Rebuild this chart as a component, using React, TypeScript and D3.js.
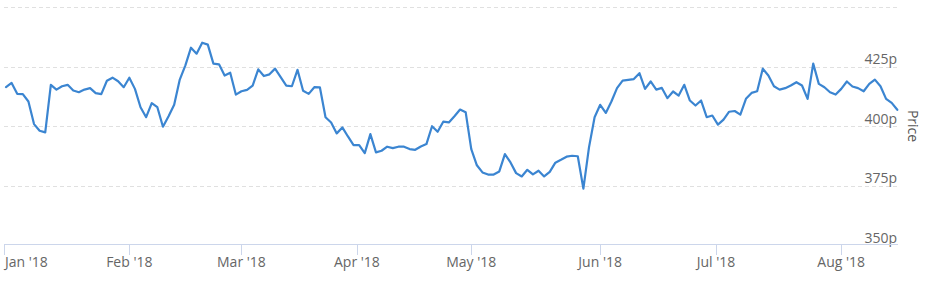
import React, { useEffect, useRef } from "react";
import * as d3 from "d3";

// Daily closing price (pence), one value per trading session from early Jan 2018 to mid Aug 2018
const prices: number[] = [
  416.3, 418.1, 413.5, 413.4, 410.3, 400.8, 398.0, 397.3, 417.3, 415.3,
  416.7, 417.3, 414.9, 414.2, 415.3, 415.9, 413.8, 413.4, 419.0, 420.3,
  418.8, 416.3, 420.3, 415.6, 407.9, 403.7, 409.6, 407.9, 399.7, 404.1,
  408.9, 419.5, 425.5, 432.9, 430.4, 435.0, 434.2, 426.2, 425.9, 421.2,
  422.4, 413.2, 414.6, 415.2, 417.0, 423.8, 421.0, 421.7, 424.1, 420.5,
  417.0, 416.7, 423.6, 414.8, 413.5, 416.3, 416.2, 403.7, 401.5, 396.9,
  399.4, 395.6, 392.0, 392.0, 388.6, 396.6, 388.9, 389.6, 391.3, 390.7,
  391.3, 391.3, 390.3, 390.0, 391.4, 392.4, 399.9, 397.6, 401.8, 401.5,
  404.1, 406.9, 405.8, 390.3, 383.5, 380.5, 379.6, 379.6, 380.9, 388.2,
  384.7, 380.2, 378.8, 381.6, 379.7, 381.2, 378.8, 380.7, 384.6, 385.8,
  387.1, 387.5, 387.3, 373.7, 391.0, 403.7, 408.9, 405.5, 410.3, 415.9,
  419.1, 419.4, 419.7, 422.2, 415.6, 418.7, 415.3, 416.0, 411.7, 414.5,
  412.8, 417.3, 410.7, 408.6, 410.7, 403.7, 404.4, 400.6, 402.7, 406.0,
  406.3, 404.8, 411.4, 413.9, 414.6, 424.1, 421.2, 416.7, 415.3, 415.9,
  417.0, 418.4, 417.0, 411.4, 426.2, 417.7, 416.3, 414.2, 413.2, 415.6,
  418.7, 416.6, 415.9, 414.6, 417.7, 419.5, 416.7, 411.4, 409.7, 406.8,
];

// Month ticks, as positions on the trading-session (ordinal) axis
const monthTickPositions: number[] = [-0.36, 22, 42, 62.6, 83, 106, 126.67, 149];
const monthTickLabels: string[] = ["Jan '18", "Feb '18", "Mar '18", "Apr '18", "May '18", "Jun '18", "Jul '18", "Aug '18"];

const priceTicks: number[] = [350, 375, 400, 425, 450];
const priceTickLabels: string[] = ["350p", "375p", "400p", "425p", ""];
const axisTitle = "Price";

const W = 940;
const H = 281;
const FONT = "'Open Sans', 'DejaVu Sans', sans-serif";

export default function App() {
  const ref = useRef<SVGSVGElement | null>(null);

  useEffect(() => {
    document.body.style.margin = "0";
    const svg = d3.select(ref.current);
    svg.selectAll("*").remove();

    const plotLeft = 4;
    const plotRight = 898;
    const plotTop = 7;
    const plotBottom = 245;

    const x = d3.scaleLinear().domain([0, prices.length - 1]).range([6, 897.3]);
    const y = d3.scaleLinear().domain([350, 450]).range([plotBottom, plotTop]);

    svg.append("rect").attr("width", W).attr("height", H).attr("fill", "#ffffff");

    // grid lines
    const grid = svg.append("g");
    grid
      .selectAll("line")
      .data(priceTicks.filter((t) => t !== 350))
      .join("line")
      .attr("x1", plotLeft)
      .attr("x2", plotRight)
      .attr("y1", (d) => Math.round(y(d)) + 0.5)
      .attr("y2", (d) => Math.round(y(d)) + 0.5)
      .attr("stroke", "#e0e0e0")
      .attr("stroke-width", 1)
      .attr("stroke-dasharray", "4,3");

    // y labels (right side, above gridline)
    svg
      .append("g")
      .selectAll("text")
      .data(priceTicks.map((t, i) => ({ t, label: priceTickLabels[i] })).filter((d) => d.label))
      .join("text")
      .attr("x", 897)
      .attr("y", (d) => y(d.t) - 2.5)
      .attr("text-anchor", "end")
      .attr("font-family", FONT)
      .attr("font-size", 14)
      .attr("fill", "#666666")
      .text((d) => d.label);

    // y axis title
    svg
      .append("text")
      .attr("transform", `translate(908, ${(plotTop + plotBottom) / 2}) rotate(90)`)
      .attr("text-anchor", "middle")
      .attr("font-family", FONT)
      .attr("font-size", 14)
      .attr("fill", "#555555")
      .text(axisTitle);

    // x axis line
    svg
      .append("line")
      .attr("x1", plotLeft)
      .attr("x2", plotRight)
      .attr("y1", plotBottom - 0.5)
      .attr("y2", plotBottom - 0.5)
      .attr("stroke", "#ccd6eb")
      .attr("stroke-width", 1);

    // ticks
    const xt = svg.append("g");
    monthTickPositions.forEach((p, i) => {
      const tx = Math.max(plotLeft, x(p));
      xt.append("line")
        .attr("x1", Math.round(tx) + 0.5)
        .attr("x2", Math.round(tx) + 0.5)
        .attr("y1", plotBottom)
        .attr("y2", plotBottom + 10)
        .attr("stroke", "#ccd6eb")
        .attr("stroke-width", 1);
      const t = xt
        .append("text")
        .attr("x", tx)
        .attr("y", 266.5)
        .attr("text-anchor", "middle")
        .attr("font-family", FONT)
        .attr("font-size", 14)
        .attr("fill", "#666666")
        .text(monthTickLabels[i]);
      const node = t.node() as SVGTextElement;
      const w = node.getComputedTextLength();
      if (tx - w / 2 < plotLeft + 1) {
        t.attr("text-anchor", "start").attr("x", plotLeft + 1);
      }
    });

    // price line
    const line = d3
      .line<number>()
      .x((_, i) => x(i))
      .y((d) => y(d));

    svg
      .append("path")
      .datum(prices)
      .attr("d", line)
      .attr("fill", "none")
      .attr("stroke", "#3b85d1")
      .attr("stroke-width", 2.2)
      .attr("stroke-linejoin", "round")
      .attr("stroke-linecap", "round");
  }, []);

  return (
    <svg
      ref={ref}
      width={W}
      height={H}
      style={{ position: "absolute", left: 0, top: 0, display: "block" }}
    />
  );
}
